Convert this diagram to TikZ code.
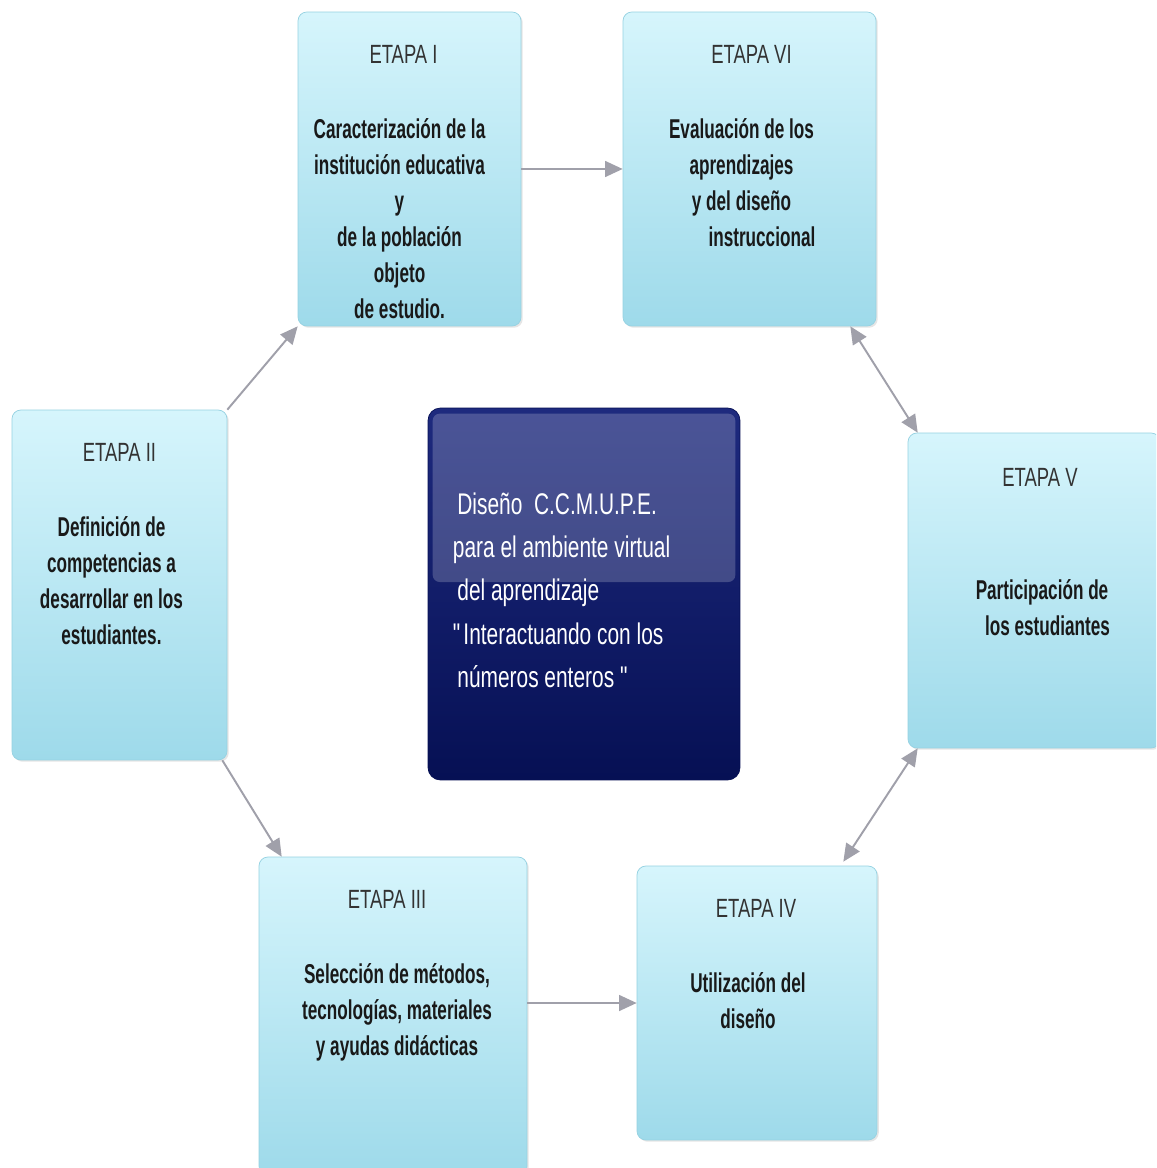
\documentclass[tikz,border=0pt]{standalone}
\usepackage{fontspec}
\setmainfont{Liberation Sans}[FakeStretch=0.7]
\newfontfamily\stagefont{Liberation Sans Bold}[FakeStretch=0.63]
\usetikzlibrary{calc,shadows,arrows.meta}
\definecolor{stagetop}{RGB}{214,245,252}
\definecolor{stagebot}{RGB}{158,218,234}
\definecolor{stageline}{RGB}{150,210,226}
\definecolor{navytop}{RGB}{30,42,126}
\definecolor{navybot}{RGB}{6,16,84}
\definecolor{arrowgray}{RGB}{160,160,170}

\begin{document}
\begin{tikzpicture}[x=0.02cm,y=-0.02cm,
	stage/.style={draw=stageline,rounded corners=5pt,top color=stagetop,bottom color=stagebot,inner sep=0pt,drop shadow={opacity=0.2,shadow xshift=1pt,shadow yshift=-1pt}},
	head/.style={font=\fontsize{15}{20}\selectfont,text=black!80},
	body/.style={font=\fontsize{15.5}{20.4}\stagefont,align=center,anchor=north,text=black!90},
	link/.style={draw=arrowgray,line width=1.1pt,-{Triangle[length=10pt,width=9pt]}},
	twoway/.style={draw=arrowgray,line width=1.1pt,{Triangle[length=10pt,width=9pt]}-{Triangle[length=10pt,width=9pt]}}]

	\clip (0,0) rectangle (1156,1168);
	\fill [white] (0,0) rectangle (1156,1168);

	\node [stage,minimum width=4.46cm,minimum height=6.28cm] (e1) at (409.5,169) {};
	\node [stage,minimum width=5.06cm,minimum height=6.28cm] (e6) at (749.5,169) {};
	\node [stage,minimum width=4.30cm,minimum height=7.00cm] (e2) at (119.5,585) {};
	\node [stage,minimum width=5.04cm,minimum height=6.30cm] (e5) at (1034,590.5) {};
	\node [stage,minimum width=5.36cm,minimum height=6.36cm] (e3) at (393,1016) {};
	\node [stage,minimum width=4.80cm,minimum height=5.48cm] (e4) at (757,1003) {};

	\node [head] (h1) at ($(e1.north)+(-6,43)$) {ETAPA I};
	\node [body] (b1) at ($(e1.north)+(-10,101)$) {Caracterización de la\\institución educativa\\y\\de la población\\objeto\\de estudio.};
	\node [head] (h6) at ($(e6.north)+(2,43)$) {ETAPA VI};
	\node [body] (b6) at ($(e6.north)+(-8,101)$) {Evaluación de los\\aprendizajes\\y del diseño\\\hspace{1.5em}instruccional};
	\node [head] (h2) at ($(e2.north)+(0,43)$) {ETAPA II};
	\node [body] (b2) at ($(e2.north)+(-8,101)$) {Definición de\\competencias a\\desarrollar en los\\estudiantes.};
	\node [head] (h5) at ($(e5.north)+(6,45)$) {ETAPA V};
	\node [body] (b5) at ($(e5.north)+(8,141)$) {Participación de\\\hspace{0.4em}los estudiantes};
	\node [head] (h3) at ($(e3.north)+(-6,43)$) {ETAPA III};
	\node [body] (b3) at ($(e3.north)+(4,101)$) {Selección de métodos,\\tecnologías, materiales\\y ayudas didácticas};
	\node [head] (h4) at ($(e4.north)+(-1,43)$) {ETAPA IV};
	\node [body] (b4) at ($(e4.north)+(-9,101)$) {Utilización del\\diseño};

	\node [rounded corners=7pt,top color=navytop,bottom color=navybot,draw=navybot,minimum width=6.24cm,minimum height=7.44cm,inner sep=0pt] (ctr) at (584,594) {};
	\fill [white,opacity=0.2,rounded corners=4pt] ($(ctr.north west)+(5,6)$) rectangle ($(ctr.east)+(-5,-12)$);
	\node [anchor=north west,align=left,text=white,font=\fontsize{17}{24.6}\selectfont] (ctrtxt) at ($(ctr.north west)+(19,79)$) {\hspace{0.15em}Diseño\ \ C.C.M.U.P.E.\\para el ambiente virtual\\\hspace{0.15em}del aprendizaje\\\textquotedbl Interactuando con los\\\hspace{0.15em}números enteros \textquotedbl};

	\draw [link] (e1) -- (e6);
	\draw [link] (e2.north east) -- (e1.south west);
	\draw [twoway] ($(e6.south east)+(-26,0)$) -- ($(e5.north west)+(10,0)$);
	\draw [twoway] ($(e5.south west)+(10,0)$) -- ($(e4.north east)+(-34,-4)$);
	\draw [link] ($(e2.south east)+(-5,0)$) -- ($(e3.north west)+(23,0)$);
	\draw [link] (e3.east |- e4) -- (e4.west);
\end{tikzpicture}
\end{document}
